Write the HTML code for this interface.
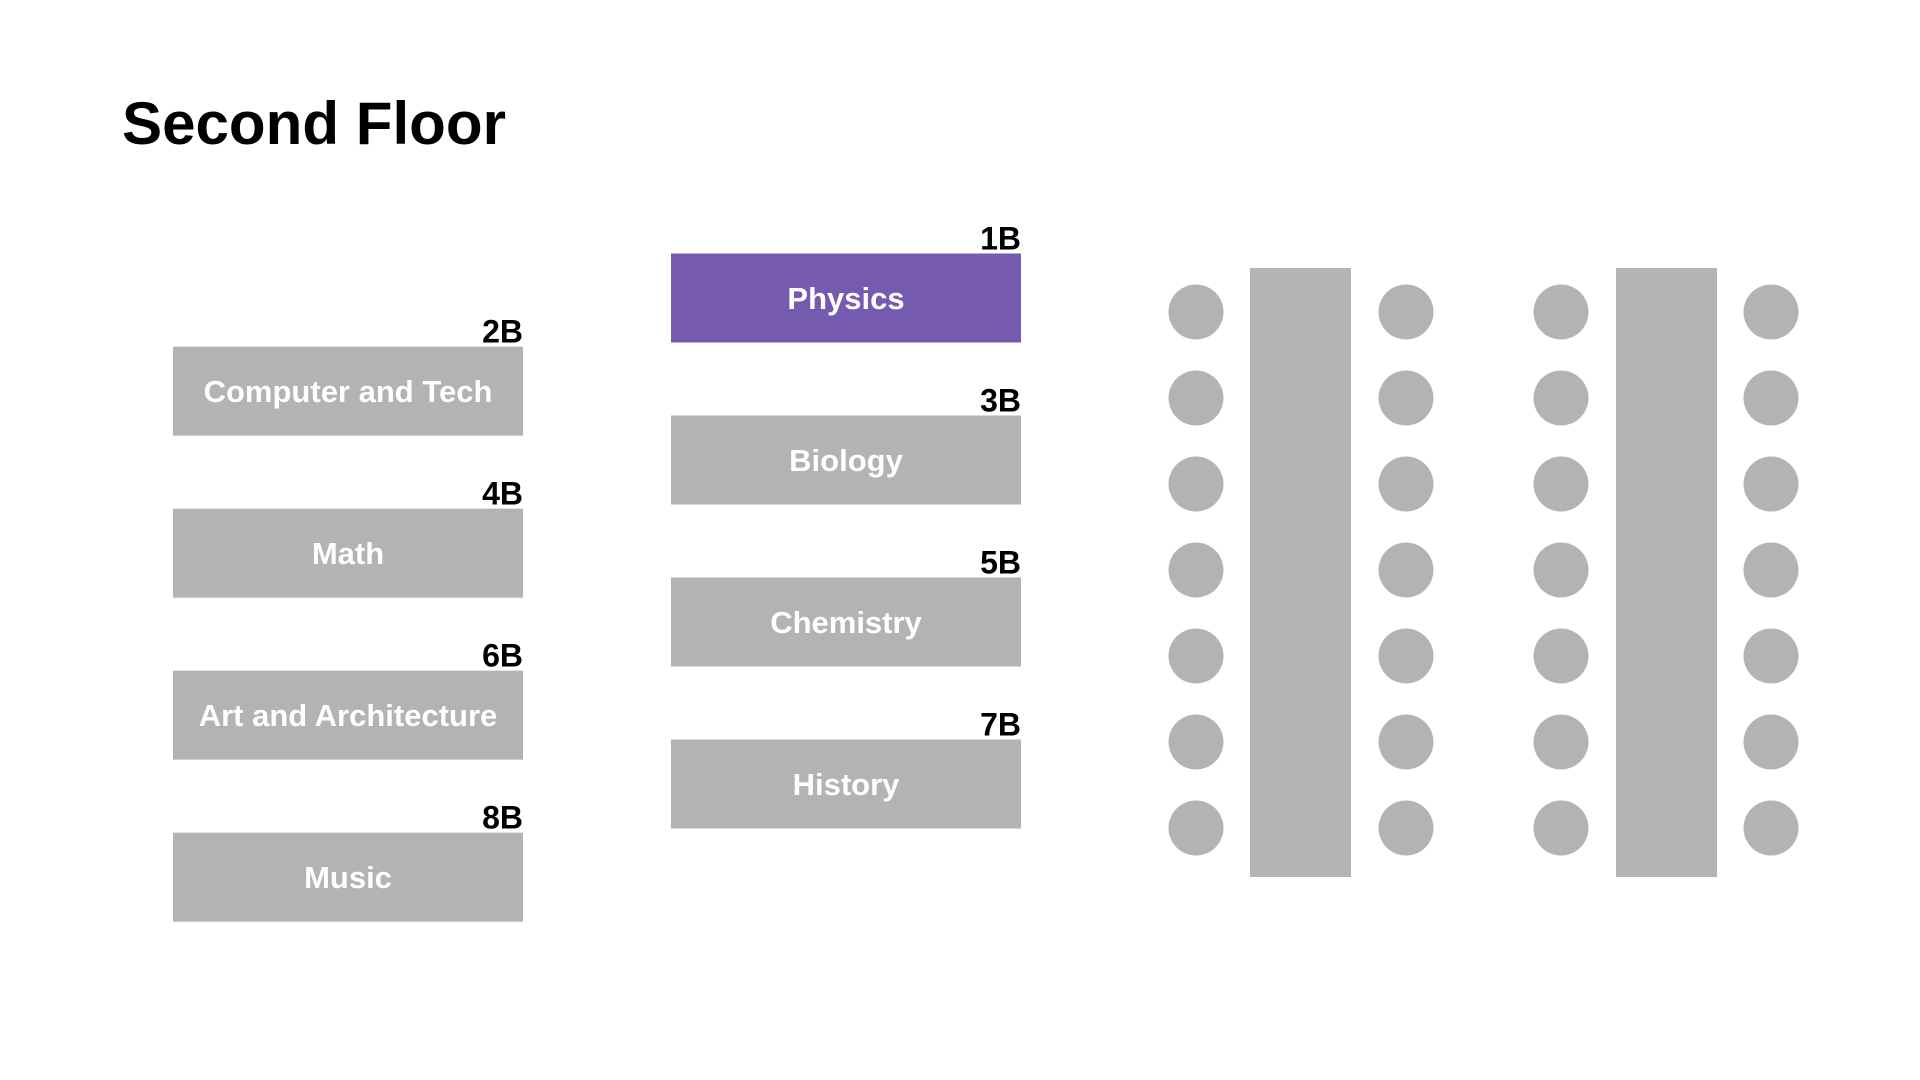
<!DOCTYPE html>
<html><head><meta charset="utf-8"><style>
html,body{margin:0;padding:0;background:#fff;width:1920px;height:1080px;overflow:hidden}
svg{display:block}
text{font-family:"Liberation Sans",sans-serif;font-weight:bold}
</style></head><body>
<svg id="plan" width="1920" height="1080" viewBox="0 0 1920 1080">
<text x="122" y="144" font-size="60" fill="#000" textLength="384" lengthAdjust="spacingAndGlyphs">Second Floor</text>
</svg>
<script>
const roomNames = ["Physics","Computer and Tech","Biology","Math","Chemistry","Art and Architecture","History","Music"];
const roomCodes = ["1B","2B","3B","4B","5B","6B","7B","8B"];
const roomCols = [1,0,1,0,1,0,1,0];
const roomRows = [0,0.575,1,1.575,2,2.575,3,3.575];
const highlighted = ["1B"];
const seatRows = [0,1,2,3,4,5,6];
const tableCount = [0,1];

const NS = "http://www.w3.org/2000/svg";
const svg = document.getElementById("plan");
function mk(tag, attrs){const e=document.createElementNS(NS,tag);for(const k in attrs)e.setAttribute(k,attrs[k]);svg.appendChild(e);return e;}
const colX = c => 173 + c*498;
const rowY = r => 253.5 + r*162;
const boxW = 350, boxH = 89;

roomNames.forEach((name,i)=>{
  const x = colX(roomCols[i]), y = rowY(roomRows[i]);
  const isHi = highlighted.includes(roomCodes[i]);
  const r = mk("rect",{x:x,y:y,width:boxW,height:boxH,fill:isHi?"#765aaf":"#b3b3b3"});
  
  
  const t = mk("text",{x:x+boxW/2,y:y+boxH/2+11,"text-anchor":"middle","font-size":"31",fill:"#fff"});
  t.textContent = name;
  
  
  const c = mk("text",{x:x+boxW,y:y-4,"text-anchor":"end","font-size":"32",fill:"#000"});
  c.textContent = roomCodes[i];
  
  
});

const seatX = t => [1196 + t*365, 1406 + t*365];
const seatY = r => 312 + r*86;
tableCount.forEach(t=>{
  const tb = mk("rect",{x:1250 + t*366,y:268,width:101,height:609,fill:"#b3b3b3"});
  
  
  seatX(t).forEach(sx=>{
    seatRows.forEach(r=>{
      const s = mk("circle",{cx:sx,cy:seatY(r),r:27.5,fill:"#b3b3b3"});
      
      
    });
  });
});
</script>
</body></html>
